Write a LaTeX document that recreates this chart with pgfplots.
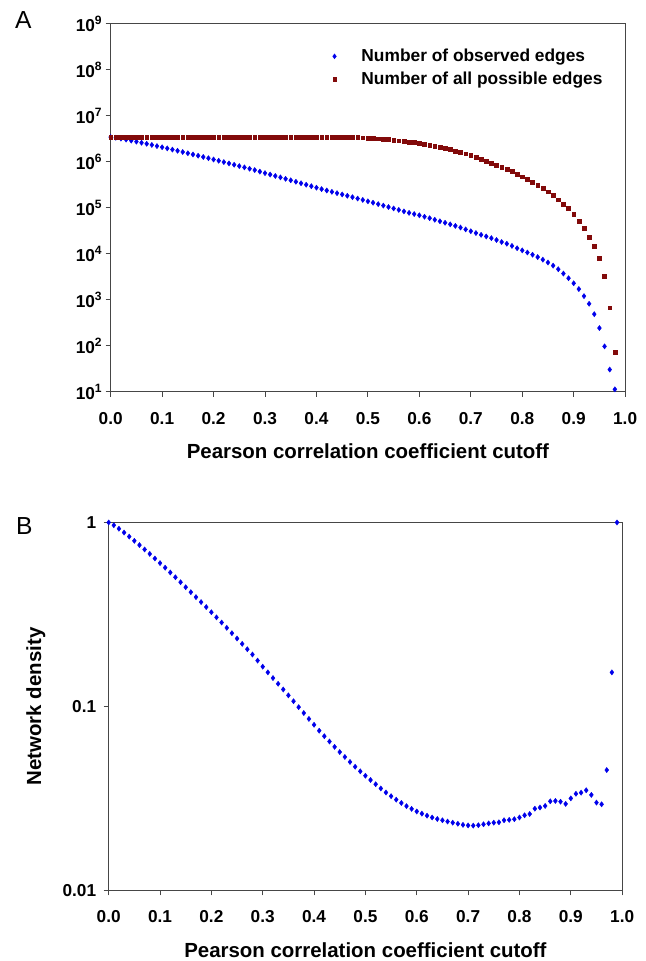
\documentclass[border=0pt]{standalone}
\usepackage{fontspec}
\setmainfont{Liberation Sans}
\usepackage{pgfplots}
\pgfplotsset{compat=1.18}
\usepackage{pgfplotstable}
\definecolor{myblue}{RGB}{0,0,235}
\definecolor{myred}{RGB}{130,10,10}
\definecolor{axgray}{RGB}{70,70,70}

% x, log10(observed edges), log10(all possible edges)
\pgfplotstableread{
x b r
0.00 6.540 6.540
0.01 6.525 6.540
0.02 6.506 6.540
0.03 6.485 6.540
0.04 6.463 6.540
0.05 6.440 6.540
0.06 6.417 6.540
0.07 6.393 6.540
0.08 6.369 6.540
0.09 6.344 6.540
0.10 6.319 6.540
0.11 6.294 6.540
0.12 6.268 6.540
0.13 6.242 6.540
0.14 6.215 6.540
0.15 6.188 6.540
0.16 6.161 6.540
0.17 6.134 6.540
0.18 6.107 6.540
0.19 6.080 6.540
0.20 6.052 6.540
0.21 6.024 6.540
0.22 5.996 6.540
0.23 5.967 6.540
0.24 5.938 6.540
0.25 5.909 6.540
0.26 5.880 6.540
0.27 5.851 6.540
0.28 5.822 6.540
0.29 5.789 6.540
0.30 5.756 6.540
0.31 5.725 6.540
0.32 5.694 6.540
0.33 5.663 6.540
0.34 5.632 6.540
0.35 5.600 6.540
0.36 5.568 6.540
0.37 5.536 6.540
0.38 5.504 6.540
0.39 5.472 6.540
0.40 5.440 6.540
0.41 5.408 6.540
0.42 5.378 6.540
0.43 5.349 6.540
0.44 5.320 6.540
0.45 5.292 6.540
0.46 5.263 6.538
0.47 5.233 6.535
0.48 5.203 6.531
0.49 5.173 6.526
0.50 5.143 6.520
0.51 5.113 6.513
0.52 5.082 6.505
0.53 5.050 6.496
0.54 5.018 6.486
0.55 4.987 6.475
0.56 4.956 6.463
0.57 4.924 6.449
0.58 4.892 6.434
0.59 4.866 6.423
0.60 4.839 6.410
0.61 4.808 6.391
0.62 4.776 6.370
0.63 4.742 6.346
0.64 4.708 6.320
0.65 4.676 6.295
0.66 4.642 6.268
0.67 4.608 6.240
0.68 4.572 6.210
0.69 4.532 6.176
0.70 4.493 6.140
0.71 4.453 6.101
0.72 4.414 6.060
0.73 4.379 6.020
0.74 4.342 5.978
0.75 4.302 5.934
0.76 4.258 5.888
0.77 4.221 5.840
0.78 4.173 5.790
0.79 4.123 5.736
0.80 4.076 5.680
0.81 4.030 5.620
0.82 3.982 5.558
0.83 3.930 5.492
0.84 3.874 5.422
0.85 3.812 5.350
0.86 3.744 5.270
0.87 3.666 5.180
0.88 3.572 5.080
0.89 3.470 4.990
0.90 3.360 4.860
0.91 3.235 4.710
0.92 3.081 4.550
0.93 2.914 4.370
0.94 2.689 4.170
0.95 2.387 3.910
0.96 1.988 3.520
0.97 1.484 2.830
0.98 1.055 1.870
}\tabA

% x, log10(network density)
\pgfplotstableread{
x d
0.00 0.000
0.01 -0.015
0.02 -0.034
0.03 -0.055
0.04 -0.077
0.05 -0.100
0.06 -0.123
0.07 -0.147
0.08 -0.171
0.09 -0.196
0.10 -0.221
0.11 -0.246
0.12 -0.272
0.13 -0.298
0.14 -0.325
0.15 -0.352
0.16 -0.379
0.17 -0.406
0.18 -0.433
0.19 -0.460
0.20 -0.488
0.21 -0.516
0.22 -0.544
0.23 -0.573
0.24 -0.602
0.25 -0.631
0.26 -0.660
0.27 -0.689
0.28 -0.718
0.29 -0.751
0.30 -0.784
0.31 -0.815
0.32 -0.846
0.33 -0.877
0.34 -0.908
0.35 -0.940
0.36 -0.972
0.37 -1.004
0.38 -1.036
0.39 -1.068
0.40 -1.100
0.41 -1.132
0.42 -1.162
0.43 -1.191
0.44 -1.220
0.45 -1.248
0.46 -1.275
0.47 -1.302
0.48 -1.328
0.49 -1.353
0.50 -1.377
0.51 -1.400
0.52 -1.423
0.53 -1.446
0.54 -1.468
0.55 -1.488
0.56 -1.507
0.57 -1.525
0.58 -1.542
0.59 -1.557
0.60 -1.571
0.61 -1.583
0.62 -1.594
0.63 -1.604
0.64 -1.612
0.65 -1.619
0.66 -1.626
0.67 -1.632
0.68 -1.638
0.69 -1.644
0.70 -1.647
0.71 -1.648
0.72 -1.646
0.73 -1.641
0.74 -1.636
0.75 -1.632
0.76 -1.630
0.77 -1.619
0.78 -1.617
0.79 -1.613
0.80 -1.604
0.81 -1.592
0.82 -1.585
0.83 -1.556
0.84 -1.550
0.85 -1.541
0.86 -1.516
0.87 -1.514
0.88 -1.518
0.89 -1.530
0.90 -1.500
0.91 -1.475
0.92 -1.469
0.93 -1.456
0.94 -1.481
0.95 -1.523
0.96 -1.532
0.97 -1.346
0.98 -0.815
0.99 0.000
}\tabB

\pgfplotsset{
  panel/.style={
    scale only axis,
    xmin=0, xmax=1,
    xtick={0,0.1,0.2,0.3,0.4,0.5,0.6,0.7,0.8,0.9,1.0},
    xticklabels={0.0,0.1,0.2,0.3,0.4,0.5,0.6,0.7,0.8,0.9,1.0},
    tick align=outside,
    xtick pos=bottom, ytick pos=left,
    major tick length=5pt,
    minor tick num=0,
    axis line style={axgray, line width=1pt},
    every tick/.style={axgray, line width=1pt},
    ticklabel style={font=\fontsize{17.3}{20}\selectfont\bfseries},
    xticklabel style={yshift=-12pt},
    label style={font=\fontsize{20.5}{24}\selectfont\bfseries},
    clip=false,
  }
}

\begin{document}
\begin{tikzpicture}
\path (0pt,0pt) rectangle (647pt,961pt);

% Panel A
\begin{axis}[panel,
  at={(111pt,568pt)}, anchor=south west,
  width=516pt, height=369pt,
  ymin=1, ymax=9,
  ytick={1,2,3,4,5,6,7,8,9},
  yticklabels={10\textsuperscript{1},10\textsuperscript{2},10\textsuperscript{3},10\textsuperscript{4},10\textsuperscript{5},10\textsuperscript{6},10\textsuperscript{7},10\textsuperscript{8},10\textsuperscript{9}},
  xlabel={Pearson correlation coefficient cutoff},
  xlabel style={at={(axis description cs:0.5,-0.1626)}, anchor=center},
  legend cell align=left,
  legend style={draw=none, fill=none, at={(axis description cs:0.427,0.937)}, anchor=north west,
    font=\fontsize{17.4}{20}\selectfont\bfseries, row sep=5pt, inner sep=0pt,
    nodes={inner sep=2pt}},
]
\addplot[only marks, mark=diamond*, mark size=2.6pt, color=myblue,
  legend image code/.code={\path[draw=none,fill=none] (-4pt,0pt) rectangle (25pt,0.1pt); \draw[only marks, mark=diamond*, mark size=2.4pt, myblue] plot coordinates {(0pt,0pt)};}]
  table[x=x, y=b] {\tabA};
\addlegendentry{Number of observed edges}
\addplot[only marks, mark=square*, mark size=1.9pt, color=myred,
  legend image code/.code={\path[draw=none,fill=none] (-4pt,0pt) rectangle (25pt,0.1pt); \draw[only marks, mark=square*, mark size=1.8pt, myred] plot coordinates {(0pt,0pt)};}]
  table[x=x, y=r] {\tabA};
\addlegendentry{Number of all possible edges}
\end{axis}

% Panel B
\begin{axis}[panel,
  at={(109pt,68pt)}, anchor=south west,
  width=515pt, height=369pt,
  ymin=-2, ymax=0,
  ytick={-2,-1,0},
  yticklabels={0.01,0.1,1},
  yticklabel style={xshift=-4pt},
  xlabel={Pearson correlation coefficient cutoff},
  xlabel style={at={(axis description cs:0.5,-0.1626)}, anchor=center},
  ylabel={Network density},
  ylabel style={at={(axis description cs:-0.1417,0.5)}, anchor=center},
]
\addplot[only marks, mark=diamond*, mark size=2.6pt, color=myblue] table[x=x, y=d] {\tabB};
\end{axis}

\node[anchor=base west, inner sep=0pt, font=\fontsize{24.7}{28}\selectfont] at (15pt,932pt) {A};
\node[anchor=base west, inner sep=0pt, font=\fontsize{24.7}{28}\selectfont] at (16pt,425pt) {B};
\end{tikzpicture}
\end{document}
